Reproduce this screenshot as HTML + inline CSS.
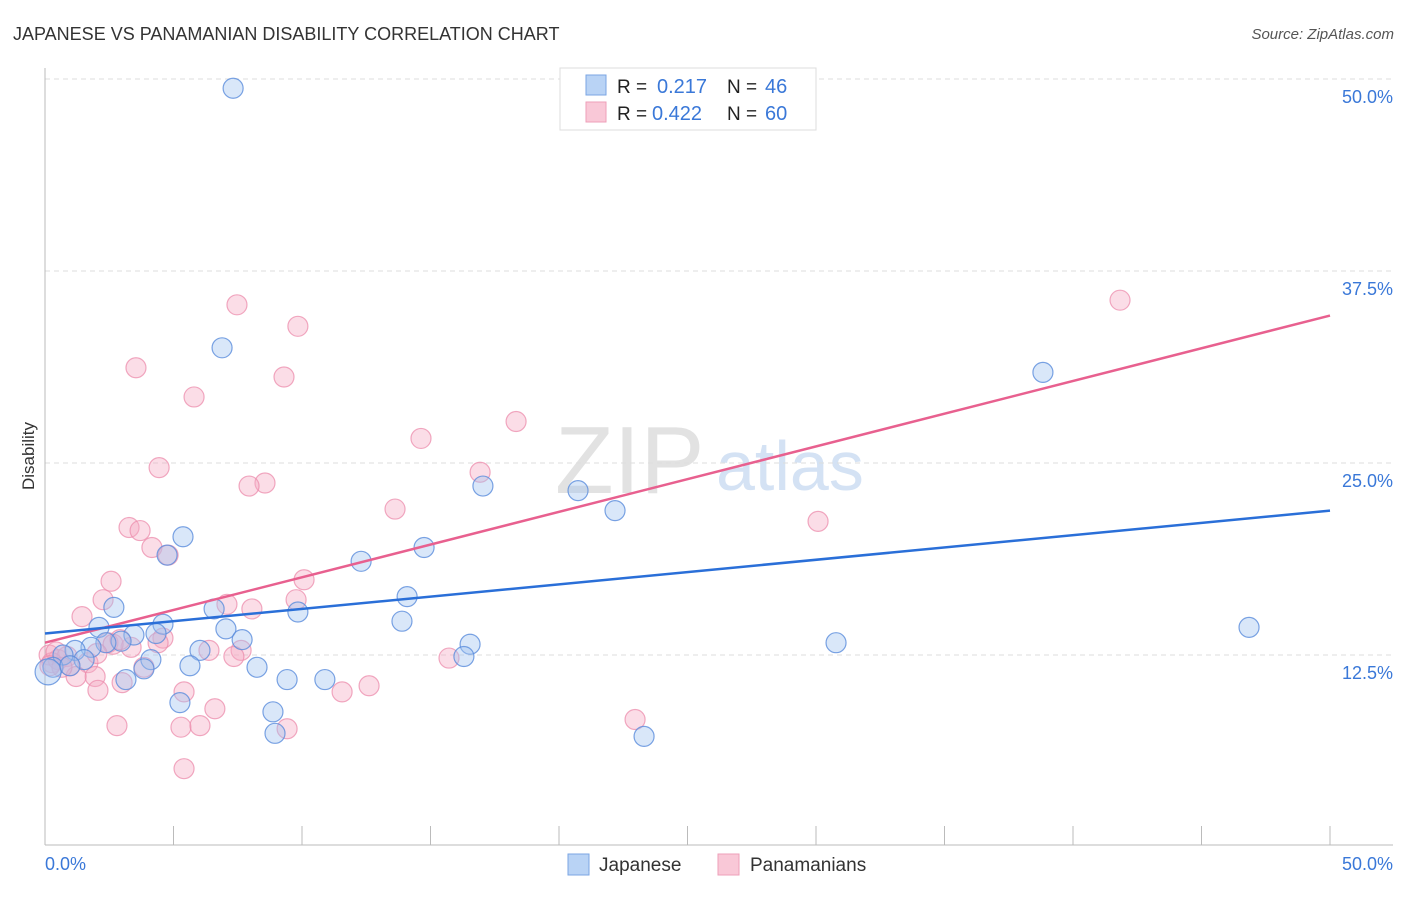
<!DOCTYPE html>
<html><head><meta charset="utf-8">
<style>
body{margin:0;background:#fff;font-family:"Liberation Sans",sans-serif;}
svg text{font-family:"Liberation Sans",sans-serif;}
</style></head>
<body>
<svg id="chart" width="1406" height="892" xmlns="http://www.w3.org/2000/svg">
<text x="13" y="40" font-size="18" fill="#333">JAPANESE VS PANAMANIAN DISABILITY CORRELATION CHART</text>
<text x="1394" y="39" font-size="15" fill="#555" text-anchor="end" font-style="italic">Source: ZipAtlas.com</text>
<g>
<text x="555" y="493" font-size="96" fill="#e2e2e2" font-family="Liberation Serif,serif">ZIP</text>
<text x="716" y="490" font-size="70" fill="#d4e2f4">atlas</text>
</g>
<g id="grid"></g>
<g id="axes"></g>
<g id="pts"></g>
<g id="lines"></g>
<text transform="translate(34,456) rotate(-90)" font-size="17" fill="#333" text-anchor="middle">Disability</text>
<g>
<rect x="560" y="68" width="256" height="62" fill="#fff" stroke="#ddd"/>
<rect x="586" y="75" width="20" height="20" fill="#b9d3f5" stroke="#7ba6e3"/>
<rect x="586" y="102" width="20" height="20" fill="#f9c8d7" stroke="#ee9fb8"/>
<text x="617" y="93" font-size="19" fill="#222">R = </text><text x="657" y="93" font-size="20" fill="#3a78d8">0.217</text>
<text x="727" y="93" font-size="19" fill="#222">N = </text><text x="765" y="93" font-size="20" fill="#3a78d8">46</text>
<text x="617" y="120" font-size="19" fill="#222">R = </text><text x="652" y="120" font-size="20" fill="#3a78d8">0.422</text>
<text x="727" y="120" font-size="19" fill="#222">N = </text><text x="765" y="120" font-size="20" fill="#3a78d8">60</text>
</g>
<g>
<rect x="568" y="854" width="21" height="21" fill="#b9d3f5" stroke="#7ba6e3"/>
<text x="599" y="871" font-size="19" fill="#333">Japanese</text>
<rect x="718" y="854" width="21" height="21" fill="#f9c8d7" stroke="#ee9fb8"/>
<text x="750" y="871" font-size="19" fill="#333">Panamanians</text>
</g>
</svg>
<script>
const xTicksMinor=[0,5,10,15,20,25,30,35,40,45,50];
const yTickValues=[12.5,25,37.5,50];
const yTickLabels=["12.5%","25.0%","37.5%","50.0%"];
const xEndLabels=["0.0%","50.0%"];
const japX=[7.32,6.89,38.83,17.04,20.74,22.18,5.37,4.75,12.30,14.75,2.68,6.58,9.84,14.09,13.89,2.10,4.59,7.04,4.32,3.46,2.96,2.37,7.67,16.54,30.78,46.85,6.03,1.79,1.17,4.12,1.52,0.70,0.31,5.64,3.85,8.25,16.30,3.15,9.42,10.89,5.25,8.87,8.95,23.31,0.12,0.97];
const japY=[49.4,32.5,30.9,23.5,23.2,21.9,20.2,19.0,18.6,19.5,15.6,15.5,15.3,16.3,14.7,14.3,14.5,14.2,13.9,13.8,13.4,13.3,13.5,13.2,13.3,14.3,12.8,13.0,12.8,12.2,12.2,12.5,11.7,11.8,11.6,11.7,12.4,10.9,10.9,10.9,9.4,8.8,7.4,7.2,11.4,11.8];
const panX=[7.47,41.83,9.84,3.54,9.30,5.80,18.33,14.63,4.44,16.93,8.56,7.94,13.62,30.08,3.27,3.70,4.16,4.79,2.57,10.08,2.26,1.44,7.08,8.05,9.77,4.59,2.45,3.35,2.65,6.38,7.63,7.35,0.16,0.51,0.86,0.97,1.67,1.95,1.21,3.00,15.72,5.41,2.06,11.56,12.61,6.61,2.80,5.29,6.03,9.42,22.96,5.41,0.27,0.66,4.40,3.85,0.43,0.19,2.02,2.92];
const panY=[35.3,35.6,33.9,31.2,30.6,29.3,27.7,26.6,24.7,24.4,23.7,23.5,22.0,21.2,20.8,20.6,19.5,19.0,17.3,17.4,16.1,15.0,15.8,15.5,16.1,13.6,13.3,13.0,13.2,12.8,12.8,12.4,12.5,12.2,12.4,11.8,12.0,11.1,11.1,10.7,12.3,10.1,10.2,10.1,10.5,9.0,7.9,7.8,7.9,7.7,8.3,5.1,12.0,11.7,13.3,11.7,12.7,11.8,12.6,13.5];
const japTrend=[13.9,21.9];
const panTrend=[13.3,34.6];
const NS="http://www.w3.org/2000/svg";
const X=v=>45+v/50*1285;
const Y=v=>847-v/12.5*192;
function mk(tag,attrs,parent){const e=document.createElementNS(NS,tag);for(const k in attrs)e.setAttribute(k,attrs[k]);parent.appendChild(e);return e;}
const grid=document.getElementById('grid'),axes=document.getElementById('axes'),pts=document.getElementById('pts'),lines=document.getElementById('lines');
yTickValues.forEach((v,i)=>{
 const l=mk('line',{x1:45,x2:1393,y1:Y(v),y2:Y(v),stroke:'#ddd','stroke-dasharray':'5,4'},grid);
 
 
 const t=mk('text',{x:1393,y:Y(v)+24,'font-size':18,fill:'#3a78d8','text-anchor':'end'},axes);
 t.textContent=yTickLabels[i];
 
 
});
const ax=mk('line',{x1:45,x2:1393,y1:845,y2:845,stroke:'#bbb'},axes);


const ay=mk('line',{x1:45,x2:45,y1:68,y2:845,stroke:'#bbb'},axes);


xTicksMinor.forEach(v=>{
 const t=mk('line',{x1:X(v),x2:X(v),y1:826,y2:845,stroke:'#bbb'},axes);
 
 
});
[[0,'start'],[50,'end']].forEach(([v,a],i)=>{
 const t=mk('text',{x:i?1393:45,y:870,'font-size':18,fill:'#3a78d8','text-anchor':a},axes);
 t.textContent=xEndLabels[i];
 
 
});
panX.forEach((x,i)=>{
 const c=mk('circle',{cx:X(x),cy:Y(panY[i]),r:10,fill:'rgba(245,170,195,0.4)',stroke:'rgba(236,140,172,0.75)','stroke-width':1.2},pts);
 
 
});
japX.forEach((x,i)=>{
 const c=mk('circle',{cx:X(x),cy:Y(japY[i]),r:i==44?13:10,fill:'rgba(160,195,240,0.4)',stroke:'rgba(90,140,220,0.8)','stroke-width':1.2},pts);
 
 
});
const lp=mk('line',{x1:X(0),y1:Y(panTrend[0]),x2:X(50),y2:Y(panTrend[1]),stroke:'#e8608f','stroke-width':2.5},lines);


const lj=mk('line',{x1:X(0),y1:Y(japTrend[0]),x2:X(50),y2:Y(japTrend[1]),stroke:'#2a6fd8','stroke-width':2.5},lines);


</script>
</body></html>
